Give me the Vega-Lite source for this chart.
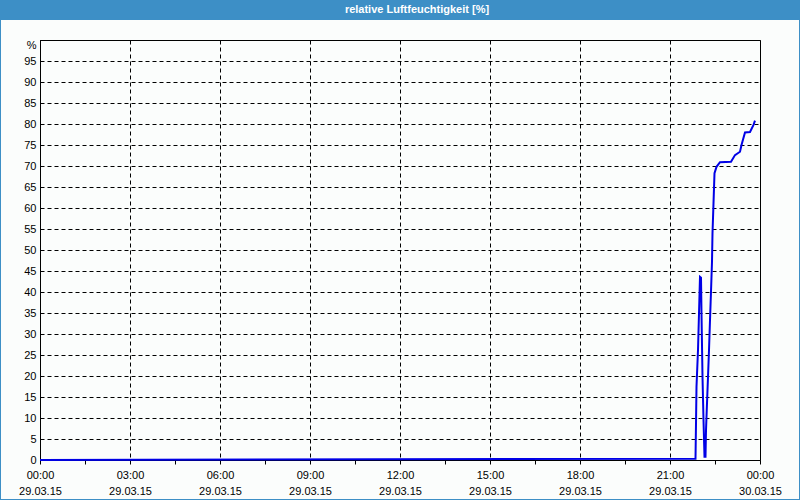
{
  "$schema": "https://vega.github.io/schema/vega-lite/v6.json",
  "width": 720,
  "height": 420,
  "autosize": {"type": "none"},
  "padding": {"left": 40, "top": 40, "right": 40, "bottom": 40},
  "background": "#fbfdfc",
  "config": {
    "view": {"stroke": "#000000", "strokeWidth": 1},
    "axis": {"labelFont": "Liberation Sans", "labelFontSize": 11, "labelColor": "#000000", "domainColor": "#000000", "tickColor": "#000000", "gridColor": "#000000", "gridDash": [4, 3], "gridOpacity": 1, "titleFontSize": 0}
  },
  "encoding": {
    "y": {
      "field": "v", "type": "quantitative",
      "scale": {"domain": [0, 100], "nice": false, "zero": true},
      "axis": {
        "title": null,
        "values": [0, 5, 10, 15, 20, 25, 30, 35, 40, 45, 50, 55, 60, 65, 70, 75, 80, 85, 90, 95, 100],
        "tickCount": 30,
        "labelExpr": "datum.value == 100 ? '%' : datum.label",
        "labelOffset": {"condition": {"test": "datum.value == 100", "value": 5}, "value": 0},
        "labelOverlap": false,
        "labelFlush": false,
        "ticks": false,
        "labelPadding": 4,
        "grid": true
      }
    }
  },
  "layer": [
    {
      "data": {"values": [
        {"t": "2015-03-29T00:00:00Z", "v": 0},
        {"t": "2015-03-29T21:51:00Z", "v": 0.3},
        {"t": "2015-03-29T21:52:00Z", "v": 8.7},
        {"t": "2015-03-29T21:53:00Z", "v": 17.5},
        {"t": "2015-03-29T21:56:00Z", "v": 26.2},
        {"t": "2015-03-29T21:58:00Z", "v": 34.9},
        {"t": "2015-03-29T22:00:00Z", "v": 43.6},
        {"t": "2015-03-29T22:02:00Z", "v": 43.4},
        {"t": "2015-03-29T22:03:00Z", "v": 34.9},
        {"t": "2015-03-29T22:05:00Z", "v": 19.8},
        {"t": "2015-03-29T22:07:00Z", "v": 9.5},
        {"t": "2015-03-29T22:09:00Z", "v": 0.8},
        {"t": "2015-03-29T22:11:00Z", "v": 0.8},
        {"t": "2015-03-29T22:12:00Z", "v": 7.1},
        {"t": "2015-03-29T22:14:00Z", "v": 13.5},
        {"t": "2015-03-29T22:16:00Z", "v": 19.8},
        {"t": "2015-03-29T22:18:00Z", "v": 26.2},
        {"t": "2015-03-29T22:20:00Z", "v": 33.3},
        {"t": "2015-03-29T22:22:00Z", "v": 40.1},
        {"t": "2015-03-29T22:24:00Z", "v": 47.2},
        {"t": "2015-03-29T22:25:00Z", "v": 54},
        {"t": "2015-03-29T22:27:00Z", "v": 61.1},
        {"t": "2015-03-29T22:29:00Z", "v": 68.3},
        {"t": "2015-03-29T22:33:00Z", "v": 69.8},
        {"t": "2015-03-29T22:40:00Z", "v": 70.9},
        {"t": "2015-03-29T23:02:00Z", "v": 71},
        {"t": "2015-03-29T23:10:00Z", "v": 72.6},
        {"t": "2015-03-29T23:20:00Z", "v": 73.4},
        {"t": "2015-03-29T23:23:00Z", "v": 75},
        {"t": "2015-03-29T23:30:00Z", "v": 78},
        {"t": "2015-03-29T23:40:00Z", "v": 78.1},
        {"t": "2015-03-29T23:47:00Z", "v": 79.8},
        {"t": "2015-03-29T23:50:00Z", "v": 80.8}
      ]},
      "mark": {"type": "line", "color": "#0000e6", "strokeWidth": 2},
      "encoding": {
        "x": {
          "field": "t", "type": "temporal",
          "scale": {"type": "utc", "domain": [{"year": 2015, "month": 3, "date": 29, "utc": true}, {"year": 2015, "month": 3, "date": 30, "utc": true}], "nice": false},
          "axis": {
            "title": null,
            "values": [
              {"year": 2015, "month": 3, "date": 29, "hours": 0, "utc": true},
              {"year": 2015, "month": 3, "date": 29, "hours": 1, "minutes": 30, "utc": true},
              {"year": 2015, "month": 3, "date": 29, "hours": 3, "utc": true},
              {"year": 2015, "month": 3, "date": 29, "hours": 4, "minutes": 30, "utc": true},
              {"year": 2015, "month": 3, "date": 29, "hours": 6, "utc": true},
              {"year": 2015, "month": 3, "date": 29, "hours": 7, "minutes": 30, "utc": true},
              {"year": 2015, "month": 3, "date": 29, "hours": 9, "utc": true},
              {"year": 2015, "month": 3, "date": 29, "hours": 10, "minutes": 30, "utc": true},
              {"year": 2015, "month": 3, "date": 29, "hours": 12, "utc": true},
              {"year": 2015, "month": 3, "date": 29, "hours": 13, "minutes": 30, "utc": true},
              {"year": 2015, "month": 3, "date": 29, "hours": 15, "utc": true},
              {"year": 2015, "month": 3, "date": 29, "hours": 16, "minutes": 30, "utc": true},
              {"year": 2015, "month": 3, "date": 29, "hours": 18, "utc": true},
              {"year": 2015, "month": 3, "date": 29, "hours": 19, "minutes": 30, "utc": true},
              {"year": 2015, "month": 3, "date": 29, "hours": 21, "utc": true},
              {"year": 2015, "month": 3, "date": 29, "hours": 22, "minutes": 30, "utc": true},
              {"year": 2015, "month": 3, "date": 30, "hours": 0, "utc": true}
            ],
            "tickCount": 30,
            "labelExpr": "utcminutes(datum.value) == 30 ? '' : [utcFormat(datum.value, '%H:%M'), utcFormat(datum.value, '%d.%m.%y')]",
            "labelBaseline": "top",
            "labelLineHeight": 16,
            "labelPadding": 5,
            "labelFlush": false,
            "labelOverlap": false,
            "tickSize": 4,
            "grid": true,
            "gridOpacity": {"condition": {"test": "utcminutes(datum.value) == 30", "value": 0}, "value": 1}
          }
        }
      }
    },
    {
      "data": {"values": [{"a": "2015-03-28T22:40:00Z", "b": "2015-03-30T01:20:00Z", "v": 104.76, "hi": 110}]},
      "mark": {"type": "rect", "color": "#3d8fc6"},
      "encoding": {
        "x": {"field": "a", "type": "temporal"},
        "x2": {"field": "b"},
        "y2": {"field": "hi"}
      }
    },
    {
      "data": {"values": [{"a": "2015-03-28T22:40:00Z", "b": "2015-03-30T01:20:00Z", "v": -9.524, "hi": 109.52}]},
      "mark": {"type": "rect", "fill": null, "fillOpacity": 0, "stroke": "#3d8fc6", "strokeWidth": 2},
      "encoding": {
        "x": {"field": "a", "type": "temporal"},
        "x2": {"field": "b"},
        "y2": {"field": "hi"}
      }
    },
    {
      "data": {"values": [{"a": "2015-03-29T12:34:00Z", "v": 107.14, "label": "relative Luftfeuchtigkeit [%]"}]},
      "mark": {"type": "text", "color": "#ffffff", "font": "Liberation Sans", "fontSize": 11, "fontWeight": "bold", "align": "center", "baseline": "middle"},
      "encoding": {
        "x": {"field": "a", "type": "temporal"},
        "text": {"field": "label"}
      }
    }
  ]
}
